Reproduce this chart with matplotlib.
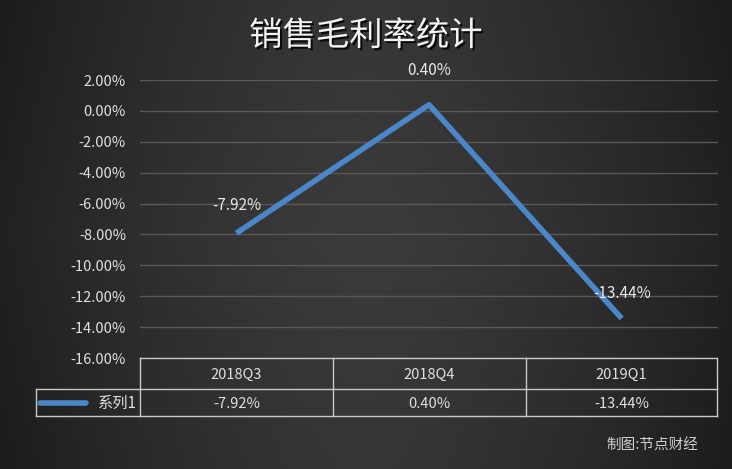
import numpy as np
import matplotlib
matplotlib.use("Agg")
import matplotlib.pyplot as plt
import matplotlib.patheffects as pe

plt.rcParams['font.family'] = ['Noto Sans CJK SC', 'DejaVu Sans']

title = "销售毛利率统计"
categories = ["2018Q3", "2018Q4", "2019Q1"]
values = [-7.92, 0.40, -13.44]
series_name = "系列1"
yticks = [2, 0, -2, -4, -6, -8, -10, -12, -14, -16]
source = "制图:节点财经"

W, H = 732, 469
fig = plt.figure(figsize=(W / 100, H / 100), dpi=100)

# background gradient
bg = fig.add_axes([0, 0, 1, 1])
xx = np.linspace(-1, 1, 400)
yy = np.linspace(-1, 1, 300)
X, Y = np.meshgrid(xx, yy)
g = 0.23 - 0.1 * np.abs(X) ** 1.5 - 0.02 * np.abs(Y)
img = np.dstack([g, g, g])
bg.imshow(img, aspect='auto', extent=[0, 1, 0, 1], interpolation='bilinear')
bg.set_xlim(0, 1); bg.set_ylim(0, 1)
bg.axis('off')

def px(x0, y0, x1, y1):
    return [x0 / W, 1 - y1 / H, (x1 - x0) / W, (y1 - y0) / H]

ax = fig.add_axes(px(140, 80, 718, 358))
ax.patch.set_alpha(0)
xs = np.arange(len(categories))
ax.set_xlim(-0.5, len(categories) - 0.5)
ax.set_ylim(-16, 2)
ax.set_yticks(yticks)
ax.set_yticklabels([f"{v:.2f}%" for v in yticks], color='#e0e0e0', fontsize=10.5)
ax.tick_params(axis='y', length=0, pad=10)
ax.set_xticks([])
for s in ax.spines.values():
    s.set_visible(False)
ax.grid(axis='y', color='#585858', linewidth=1)
ax.set_axisbelow(True)
ax.plot(xs, values, color='#4a86c8', linewidth=4, solid_capstyle='butt', zorder=3)

offsets = [(0, 1.8), (0, 2.2), (0, 1.6)]
for x, v, (dx, dy) in zip(xs, values, offsets):
    ax.text(x + dx, v + dy, f"{v:.2f}%", color='#e8e8e8', fontsize=11,
            ha='center', va='center', clip_on=False)

# table
tab = fig.add_axes(px(30, 356, 722, 420))
tab.set_xlim(30, 722)
tab.set_ylim(420, 356)
tab.axis('off')
lc = '#c8c8c8'
col_edges = [140, 333, 526, 717]
top, mid, bot = 358, 389, 416
leg_left = 36
tab.plot([col_edges[0], col_edges[-1]], [top, top], color=lc, lw=1)
tab.plot([leg_left, col_edges[-1]], [mid, mid], color=lc, lw=1)
tab.plot([leg_left, col_edges[-1]], [bot, bot], color=lc, lw=1)
for xe in col_edges:
    tab.plot([xe, xe], [top, bot], color=lc, lw=1)
tab.plot([leg_left, leg_left], [mid, bot], color=lc, lw=1)
for i, (c, v) in enumerate(zip(categories, values)):
    cx = (col_edges[i] + col_edges[i + 1]) / 2
    tab.text(cx, (top + mid) / 2 + 1, c, color='#e0e0e0', fontsize=10.5, ha='center', va='center')
    tab.text(cx, (mid + bot) / 2 + 1, f"{v:.2f}%", color='#e0e0e0', fontsize=10.5, ha='center', va='center')
tab.plot([40, 86], [403, 403], color='#4a86c8', lw=4, solid_capstyle='round')
tab.text(137, 403, series_name, color='#e0e0e0', fontsize=11, ha='right', va='center')

fig.text(0.5, 1 - 36 / H, title, color='#f4f4f4', fontsize=24, ha='center', va='center',
         path_effects=[pe.withSimplePatchShadow(offset=(1.5, -1.5), shadow_rgbFace='black', alpha=0.8)])
fig.text(698 / W, 1 - 446 / H, source, color='#d0d0d0', fontsize=10.5, ha='right', va='center')

fig.savefig("out.png", dpi=100)
